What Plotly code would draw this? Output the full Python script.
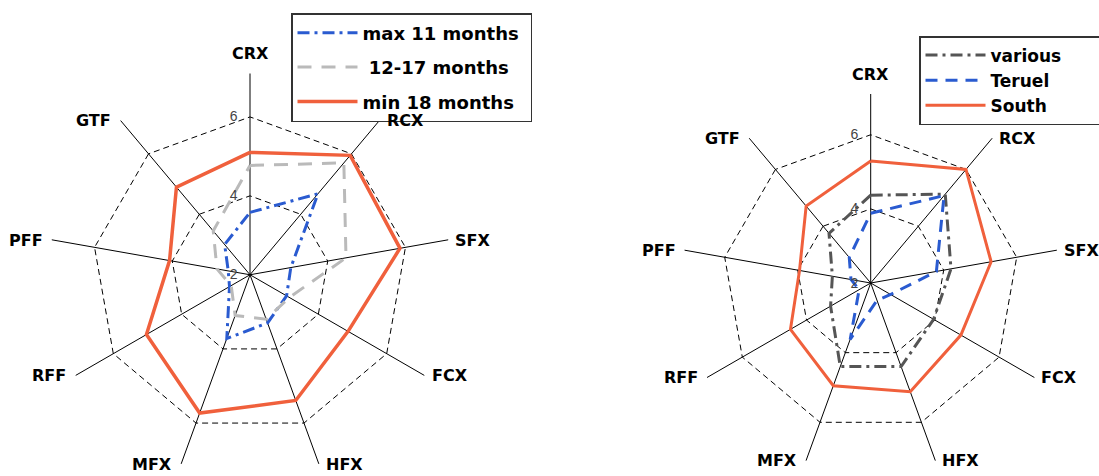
import math
import plotly.graph_objects as go

# axes, clockwise from the top
categories = ["CRX", "RCX", "SFX", "FCX", "HFX", "MFX", "RFF", "PFF", "GTF"]

# left chart: by age
max_11_months = [3.58, 4.68, 3.05, 3.07, 3.3, 3.72, 2.6, 2.56, 3.0]
months_12_17 = [4.77, 5.7, 4.47, 3.15, 3.2, 3.1, 2.55, 2.85, 3.45]
min_18_months = [5.1, 5.95, 5.86, 4.87, 5.39, 5.73, 5.03, 4.07, 4.9]

# right chart: by origin
various = [4.37, 5.13, 4.2, 3.96, 4.4, 4.4, 3.25, 3.05, 3.75]
teruel = [3.88, 5.08, 3.8, 2.62, 2.5, 3.62, 2.36, 2.54, 2.9]
south = [5.29, 6.0, 5.3, 4.81, 5.12, 4.95, 4.5, 3.95, 4.71]

radial_ticks = [2, 4, 6]

W, H = 1099, 476
FONT = "DejaVu Sans, Arial, sans-serif"
RED = "#f0603c"
BLUE = "#2a5bd0"
PAD = "\u00a0"


def closed(values):
    return values + values[:1]


def add_series(fig, values, name, color, dash, width, subplot, legend, group):
    fig.add_trace(go.Scatterpolar(
        r=closed(values),
        theta=closed(categories),
        mode="lines",
        name=name,
        line=dict(color=color, dash=dash, width=width),
        subplot=subplot,
        legend=legend,
        legendgroup=group,
    ))


fig = go.Figure()

add_series(fig, max_11_months, "max 11 months" + PAD, BLUE, "12px,5px,3px,5px", 3, "polar", "legend", "a")
add_series(fig, months_12_17, " 12-17 months", "#bababa", "14px,10px", 3, "polar", "legend", "b")
add_series(fig, min_18_months, "min 18 months", RED, "solid", 3.5, "polar", "legend", "c")

add_series(fig, various, "various" + PAD * 7, "#555555", "12px,5px,3px,5px", 3, "polar2", "legend2", "d")
add_series(fig, teruel, "Teruel", BLUE, "12px,8px", 3, "polar2", "legend2", "e")
add_series(fig, south, "South", RED, "solid", 3, "polar2", "legend2", "f")


def polar_layout(cx, cy, radius):
    # domain in paper units from a centre and radius in pixels
    return dict(
        domain=dict(x=[(cx - radius) / W, (cx + radius) / W],
                    y=[max(0, 1 - (cy + radius) / H), 1 - (cy - radius) / H]),
        gridshape="linear",
        bgcolor="white",
        radialaxis=dict(
            range=[2, 7.1],
            tickvals=radial_ticks,
            angle=90,
            tickangle=90,
            side="counterclockwise",
            showline=False,
            ticks="outside",
            ticklen=7,
            tickcolor="rgba(0,0,0,0)",
            gridcolor="black",
            gridwidth=1.3,
            griddash="6px,4px",
            tickfont=dict(family="Liberation Sans, Arial", size=14, color="#444"),
        ),
        angularaxis=dict(
            type="category",
            categoryarray=categories,
            rotation=90,
            direction="clockwise",
            showline=False,
            showticklabels=False,
            ticks="",
            gridcolor="black",
            gridwidth=1.4,
        ),
    )


def axis_labels(cx, cy, radius):
    # category names next to the spoke ends
    notes = []
    for i, name in enumerate(categories):
        a = math.radians(i * 360 / len(categories))
        tx = cx + radius * math.sin(a)
        ty = cy - radius * math.cos(a)
        s = math.sin(a)
        if abs(s) < 0.2:
            xanchor, yanchor, dx, dy = "center", "bottom", 0, -8
        elif s > 0:
            xanchor, yanchor, dx, dy = "left", "middle", 5, 0
        else:
            xanchor, yanchor, dx, dy = "right", "middle", -7, 0
        notes.append(dict(
            x=(tx + dx) / W, y=1 - (ty + dy) / H, xref="paper", yref="paper",
            text=name, showarrow=False, xanchor=xanchor, yanchor=yanchor,
            font=dict(family=FONT, size=16, color="black", weight="bold"),
        ))
    return notes


legend_style = dict(
    xref="container",
    yref="container",
    xanchor="left",
    yanchor="top",
    bgcolor="white",
    bordercolor="#333",
    borderwidth=1.5,
    itemwidth=60,
    traceorder="grouped",
)

left = (250, 275, 201.5)
right = (870.7, 283, 189)

fig.update_layout(
    width=W,
    height=H,
    margin=dict(l=0, r=0, t=0, b=0, autoexpand=False),
    paper_bgcolor="white",
    plot_bgcolor="white",
    polar=polar_layout(*left),
    polar2=polar_layout(*right),
    annotations=axis_labels(*left) + axis_labels(*right),
    legend=dict(x=291 / W, y=1 - 13 / H, tracegroupgap=8,
                font=dict(family=FONT, size=18, color="black", weight="bold"), **legend_style),
    legend2=dict(x=919 / W, y=1 - 36 / H, tracegroupgap=0,
                 font=dict(family=FONT, size=17, color="black", weight="bold"), **legend_style),
)

# the page body keeps its default 8px margin otherwise
fig.write_html("out.html", config={"displayModeBar": False},
               post_script="document.body.style.margin='0';")
